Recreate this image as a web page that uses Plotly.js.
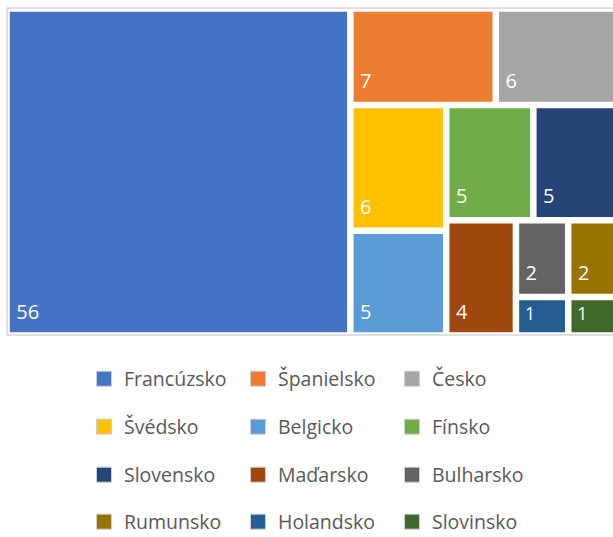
<!DOCTYPE html>
<html>
<head>
<meta charset="utf-8">
<script src="https://cdn.plot.ly/plotly-3.0.1.min.js"></script>
<style>
  html, body { margin: 0; padding: 0; overflow: hidden; background: #fff; }
  #chart { width: 624px; height: 537px; }
</style>
</head>
<body>
<div id="chart"></div>
<script>
const countries = ["Francúzsko", "Španielsko", "Česko", "Švédsko", "Belgicko", "Fínsko",
                   "Slovensko", "Maďarsko", "Bulharsko", "Rumunsko", "Holandsko", "Slovinsko"];
const counts = [56, 7, 6, 6, 5, 5, 5, 4, 2, 2, 1, 1];
const colors = ["#4472C4", "#ED7D31", "#A5A5A5", "#FFC000", "#5B9BD5", "#70AD47",
                "#264478", "#9E480E", "#636363", "#997300", "#255E91", "#43682B"];

const W = 624, H = 537;
const M = {l: 8, r: 5, t: 10, b: 203};
const pw = W - M.l - M.r, ph = H - M.t - M.b;
const px = v => (v - M.l) / pw;
const py = v => (H - M.b - v) / ph;

const traces = [{
  type: "treemap",
  labels: countries,
  parents: countries.map(() => ""),
  values: counts,
  sort: true,
  tiling: {packing: "squarify", squarifyratio: 1},
  marker: {colors: colors, line: {color: "#ffffff", width: 3.5}, pad: {t: 0, l: 0, r: 0, b: 0}},
  textinfo: "value",
  texttemplate: "<span style='font-size:20px'>\u00a0%{value}</span><br>\u00a0",
  textposition: "bottom left",
  textfont: {family: "Open Sans, Noto Sans, sans-serif", size: 8, color: "#ffffff"},
  pathbar: {visible: false},
  hoverinfo: "label+value",
  showlegend: false,
  domain: {x: [0, 1], y: [0, 1]}
}];

const legendNames = ["legend", "legend2", "legend3", "legend4"];
countries.forEach((c, i) => {
  traces.push({
    type: "scatter", mode: "markers", x: [null], y: [null],
    name: c,
    marker: {symbol: "square", size: 15, color: colors[i], line: {color: "#cfcfcf", width: 1}},
    showlegend: true,
    legend: legendNames[Math.floor(i / 3)],
    hoverinfo: "skip"
  });
});

const rowY = [379, 427, 475, 522];
const legFont = {family: "Open Sans, Noto Sans, sans-serif", size: 19.5, color: "#595959"};
const layout = {
  width: W, height: H,
  margin: {l: M.l, r: M.r, t: M.t, b: M.b, pad: 0},
  paper_bgcolor: "#ffffff", plot_bgcolor: "#ffffff",
  xaxis: {visible: false}, yaxis: {visible: false},
  showlegend: true,
  shapes: [{
    type: "rect", xref: "paper", yref: "paper",
    x0: px(7), x1: px(640), y0: py(335), y1: py(8),
    line: {color: "#d6d6d6", width: 1.5}, fillcolor: "rgba(0,0,0,0)", layer: "above"
  }]
};
legendNames.forEach((ln, k) => {
  layout[ln] = {
    orientation: "h", xref: "container", yref: "container",
    x: 84 / W, xanchor: "left", y: 1 - rowY[k] / H, yanchor: "middle",
    entrywidth: 109, entrywidthmode: "pixels",
    font: legFont, bgcolor: "rgba(0,0,0,0)", itemclick: false, itemdoubleclick: false
  };
});

Plotly.newPlot("chart", traces, layout, {displayModeBar: false, staticPlot: true});
</script>
</body>
</html>
